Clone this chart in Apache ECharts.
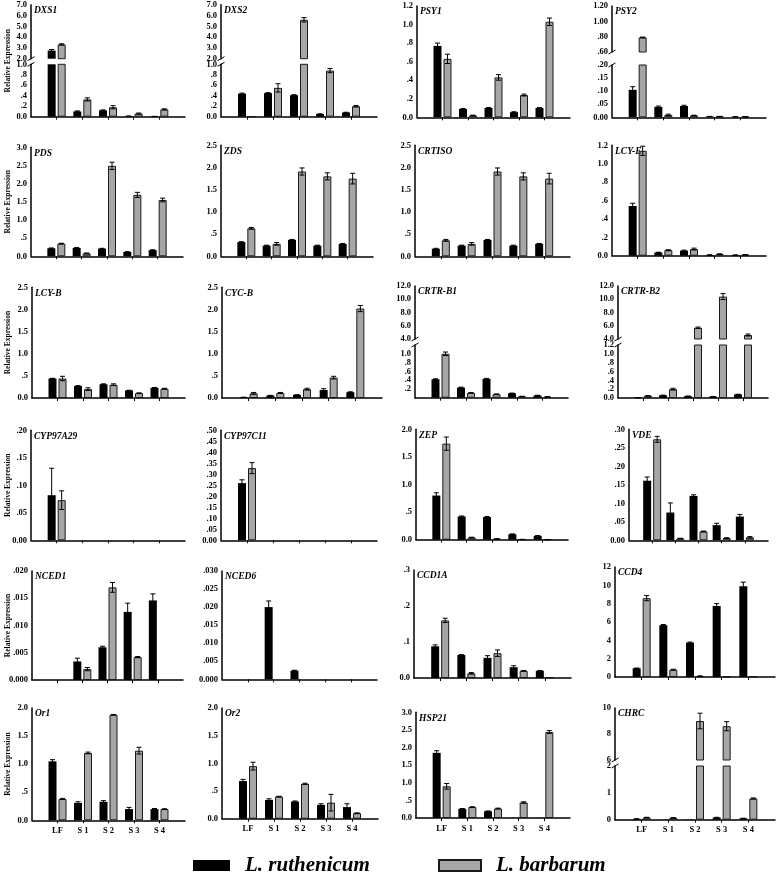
<!DOCTYPE html>
<html><head><meta charset="utf-8">
<script src="https://cdn.jsdelivr.net/npm/echarts@6/dist/echarts.min.js"></script>
<style>html,body{margin:0;padding:0;background:#fff}#c{width:778px;height:879px}</style>
</head><body><div id="c"></div>
<script>
// ---------------- DATA ----------------
const categories = ['LF', 'S 1', 'S 2', 'S 3', 'S 4'];
const seriesNames = ['L. ruthenicum', 'L. barbarum'];

const DXS1_rut = [2.75, 0.10, 0.12, 0.01, 0.005];
const DXS1_rutErr = [0.10, 0.01, 0.01, 0.002, 0.002];
const DXS1_bar = [3.32, 0.33, 0.18, 0.06, 0.14];
const DXS1_barErr = [0.06, 0.03, 0.03, 0.01, 0.01];

const DXS2_rut = [0.44, 0.45, 0.41, 0.05, 0.08];
const DXS2_rutErr = [0.01, 0.01, 0.01, 0.005, 0.005];
const DXS2_bar = [0.003, 0.55, 5.6, 0.88, 0.20];
const DXS2_barErr = [0, 0.08, 0.2, 0.04, 0.015];

const PSY1_rut = [0.77, 0.09, 0.10, 0.055, 0.10];
const PSY1_rutErr = [0.03, 0.005, 0.005, 0.005, 0.005];
const PSY1_bar = [0.63, 0.02, 0.43, 0.24, 1.03];
const PSY1_barErr = [0.05, 0.003, 0.03, 0.01, 0.04];

const PSY2_rut = [0.105, 0.040, 0.043, 0.003, 0.002];
const PSY2_rutErr = [0.012, 0.003, 0.003, 0.0005, 0.0005];
const PSY2_bar = [0.79, 0.009, 0.007, 0.003, 0.002];
const PSY2_barErr = [0.005, 0.003, 0.001, 0.0005, 0.0005];

const PDS_rut = [0.22, 0.23, 0.21, 0.12, 0.17];
const PDS_rutErr = [0.01, 0.01, 0.01, 0.005, 0.01];
const PDS_bar = [0.35, 0.08, 2.49, 1.69, 1.55];
const PDS_barErr = [0.01, 0.01, 0.10, 0.07, 0.05];

const ZDS_rut = [0.32, 0.24, 0.37, 0.24, 0.28];
const ZDS_rutErr = [0.01, 0.01, 0.01, 0.01, 0.01];
const ZDS_bar = [0.63, 0.28, 1.91, 1.80, 1.75];
const ZDS_barErr = [0.02, 0.03, 0.08, 0.08, 0.12];

const CRTISO_rut = [0.17, 0.24, 0.37, 0.24, 0.28];
const CRTISO_rutErr = [0.01, 0.01, 0.01, 0.01, 0.01];
const CRTISO_bar = [0.36, 0.28, 1.91, 1.80, 1.75];
const CRTISO_barErr = [0.02, 0.03, 0.08, 0.08, 0.12];

const LCYE_rut = [0.54, 0.035, 0.055, 0.008, 0.007];
const LCYE_rutErr = [0.03, 0.003, 0.005, 0.001, 0.001];
const LCYE_bar = [1.14, 0.06, 0.072, 0.018, 0.011];
const LCYE_barErr = [0.05, 0.005, 0.01, 0.002, 0.002];

const LCYB_rut = [0.44, 0.27, 0.31, 0.17, 0.23];
const LCYB_rutErr = [0.005, 0.01, 0.01, 0.005, 0.005];
const LCYB_bar = [0.44, 0.20, 0.30, 0.11, 0.21];
const LCYB_barErr = [0.05, 0.03, 0.02, 0.005, 0.01];

const CYCB_rut = [0.015, 0.055, 0.07, 0.18, 0.13];
const CYCB_rutErr = [0.002, 0.005, 0.005, 0.03, 0.01];
const CYCB_bar = [0.105, 0.115, 0.20, 0.46, 2.02];
const CYCB_barErr = [0.02, 0.01, 0.02, 0.03, 0.07];

const CRTRB1_rut = [0.42, 0.23, 0.43, 0.10, 0.05];
const CRTRB1_rutErr = [0.01, 0.01, 0.01, 0.005, 0.005];
const CRTRB1_bar = [1.0, 0.11, 0.08, 0.03, 0.02];
const CRTRB1_barErr = [0.04, 0.005, 0.005, 0.003, 0.003];

const CRTRB2_rut = [0.005, 0.06, 0.04, 0.03, 0.08];
const CRTRB2_rutErr = [0.001, 0.005, 0.005, 0.003, 0.005];
const CRTRB2_bar = [0.05, 0.20, 5.7, 10.4, 4.6];
const CRTRB2_barErr = [0.005, 0.02, 0.1, 0.45, 0.15];

const CYP97A29_rut = [0.082, 0, 0, 0, 0];
const CYP97A29_rutErr = [0.049, 0, 0, 0, 0];
const CYP97A29_bar = [0.073, 0, 0, 0, 0];
const CYP97A29_barErr = [0.017, 0, 0, 0, 0];

const CYP97C11_rut = [0.26, 0, 0, 0, 0];
const CYP97C11_rutErr = [0.015, 0, 0, 0, 0];
const CYP97C11_bar = [0.328, 0, 0, 0, 0];
const CYP97C11_barErr = [0.025, 0, 0, 0, 0];

const ZEP_rut = [0.80, 0.42, 0.41, 0.10, 0.07];
const ZEP_rutErr = [0.05, 0.01, 0.01, 0.005, 0.005];
const ZEP_bar = [1.74, 0.04, 0.015, 0.005, 0.003];
const ZEP_barErr = [0.12, 0.005, 0.003, 0.001, 0.001];

const VDE_rut = [0.161, 0.075, 0.120, 0.041, 0.064];
const VDE_rutErr = [0.010, 0.026, 0.003, 0.005, 0.006];
const VDE_bar = [0.273, 0.005, 0.024, 0.006, 0.008];
const VDE_barErr = [0.008, 0.0005, 0.001, 0.001, 0.002];

const NCED1_rut = [0, 0.0034, 0.0060, 0.0125, 0.0146];
const NCED1_rutErr = [0, 0.0006, 0.0002, 0.0016, 0.0012];
const NCED1_bar = [0, 0.0020, 0.0170, 0.0042, 0];
const NCED1_barErr = [0, 0.0003, 0.0009, 0.0001, 0];

const NCED6_rut = [0, 0.0200, 0.0024, 0, 0];
const NCED6_rutErr = [0, 0.0017, 0.0001, 0, 0];
const NCED6_bar = [0, 0, 0, 0, 0];
const NCED6_barErr = [0, 0, 0, 0, 0];

const CCD1A_rut = [0.088, 0.064, 0.056, 0.030, 0.020];
const CCD1A_rutErr = [0.004, 0.001, 0.006, 0.004, 0.001];
const CCD1A_bar = [0.160, 0.013, 0.069, 0.020, 0.002];
const CCD1A_barErr = [0.006, 0.002, 0.009, 0.001, 0];

const CCD4_rut = [0.95, 5.65, 3.75, 7.75, 9.90];
const CCD4_rutErr = [0.03, 0.08, 0.06, 0.25, 0.45];
const CCD4_bar = [8.60, 0.80, 0.10, 0.02, 0.02];
const CCD4_barErr = [0.28, 0.05, 0.01, 0, 0];

const Or1_rut = [1.05, 0.31, 0.33, 0.20, 0.20];
const Or1_rutErr = [0.03, 0.02, 0.02, 0.03, 0.01];
const Or1_bar = [0.38, 1.20, 1.88, 1.24, 0.20];
const Or1_barErr = [0.01, 0.015, 0.005, 0.06, 0.005];

const Or2_rut = [0.68, 0.34, 0.31, 0.25, 0.21];
const Or2_rutErr = [0.03, 0.02, 0.01, 0.02, 0.06];
const Or2_bar = [0.95, 0.40, 0.63, 0.29, 0.10];
const Or2_barErr = [0.07, 0.005, 0.01, 0.15, 0.005];

const HSP21_rut = [1.85, 0.26, 0.19, 0.005, 0.005];
const HSP21_rutErr = [0.06, 0.01, 0.01, 0, 0];
const HSP21_bar = [0.90, 0.31, 0.27, 0.44, 2.44];
const HSP21_barErr = [0.08, 0.01, 0.01, 0.02, 0.04];

const CHRC_rut = [0.03, 0.005, 0.01, 0.08, 0.05];
const CHRC_rutErr = [0.005, 0, 0, 0.01, 0.005];
const CHRC_bar = [0.08, 0.07, 9.0, 8.6, 0.79];
const CHRC_barErr = [0.01, 0.005, 0.6, 0.35, 0.02];

// axis ranges: y = [min, max, interval] (lower / only segment), yHi = upper segment of broken axis, dec = decimals of tick labels
const panels = [
  { gene: 'DXS1', d: [DXS1_rut, DXS1_rutErr, DXS1_bar, DXS1_barErr], y: [0, 1, 0.2], yHi: [2, 7, 1], dec: 1, decHi: 1 },
  { gene: 'DXS2', d: [DXS2_rut, DXS2_rutErr, DXS2_bar, DXS2_barErr], y: [0, 1, 0.2], yHi: [2, 7, 1], dec: 1, decHi: 1 },
  { gene: 'PSY1', d: [PSY1_rut, PSY1_rutErr, PSY1_bar, PSY1_barErr], y: [0, 1.2, 0.2], dec: 1 },
  { gene: 'PSY2', d: [PSY2_rut, PSY2_rutErr, PSY2_bar, PSY2_barErr], y: [0, 0.2, 0.05], yHi: [0.6, 1.2, 0.2], dec: 2, decHi: 2 },
  { gene: 'PDS', d: [PDS_rut, PDS_rutErr, PDS_bar, PDS_barErr], y: [0, 3, 0.5], dec: 1 },
  { gene: 'ZDS', d: [ZDS_rut, ZDS_rutErr, ZDS_bar, ZDS_barErr], y: [0, 2.5, 0.5], dec: 1 },
  { gene: 'CRTISO', d: [CRTISO_rut, CRTISO_rutErr, CRTISO_bar, CRTISO_barErr], y: [0, 2.5, 0.5], dec: 1 },
  { gene: 'LCY-E', d: [LCYE_rut, LCYE_rutErr, LCYE_bar, LCYE_barErr], y: [0, 1.2, 0.2], dec: 1 },
  { gene: 'LCY-B', d: [LCYB_rut, LCYB_rutErr, LCYB_bar, LCYB_barErr], y: [0, 2.5, 0.5], dec: 1 },
  { gene: 'CYC-B', d: [CYCB_rut, CYCB_rutErr, CYCB_bar, CYCB_barErr], y: [0, 2.5, 0.5], dec: 1 },
  { gene: 'CRTR-B1', d: [CRTRB1_rut, CRTRB1_rutErr, CRTRB1_bar, CRTRB1_barErr], y: [0, 1.2, 0.2], yHi: [4, 12, 2], dec: 1, decHi: 1 },
  { gene: 'CRTR-B2', d: [CRTRB2_rut, CRTRB2_rutErr, CRTRB2_bar, CRTRB2_barErr], y: [0, 1.2, 0.2], yHi: [4, 12, 2], dec: 1, decHi: 1 },
  { gene: 'CYP97A29', d: [CYP97A29_rut, CYP97A29_rutErr, CYP97A29_bar, CYP97A29_barErr], y: [0, 0.2, 0.05], dec: 2 },
  { gene: 'CYP97C11', d: [CYP97C11_rut, CYP97C11_rutErr, CYP97C11_bar, CYP97C11_barErr], y: [0, 0.5, 0.05], dec: 2 },
  { gene: 'ZEP', d: [ZEP_rut, ZEP_rutErr, ZEP_bar, ZEP_barErr], y: [0, 2, 0.5], dec: 1 },
  { gene: 'VDE', d: [VDE_rut, VDE_rutErr, VDE_bar, VDE_barErr], y: [0, 0.3, 0.05], dec: 2 },
  { gene: 'NCED1', d: [NCED1_rut, NCED1_rutErr, NCED1_bar, NCED1_barErr], y: [0, 0.02, 0.005], dec: 3 },
  { gene: 'NCED6', d: [NCED6_rut, NCED6_rutErr, NCED6_bar, NCED6_barErr], y: [0, 0.03, 0.005], dec: 3 },
  { gene: 'CCD1A', d: [CCD1A_rut, CCD1A_rutErr, CCD1A_bar, CCD1A_barErr], y: [0, 0.3, 0.1], dec: 1 },
  { gene: 'CCD4', d: [CCD4_rut, CCD4_rutErr, CCD4_bar, CCD4_barErr], y: [0, 12, 2], dec: 0 },
  { gene: 'Or1', d: [Or1_rut, Or1_rutErr, Or1_bar, Or1_barErr], y: [0, 2, 0.5], dec: 1 },
  { gene: 'Or2', d: [Or2_rut, Or2_rutErr, Or2_bar, Or2_barErr], y: [0, 2, 0.5], dec: 1 },
  { gene: 'HSP21', d: [HSP21_rut, HSP21_rutErr, HSP21_bar, HSP21_barErr], y: [0, 3, 0.5], dec: 1 },
  { gene: 'CHRC', d: [CHRC_rut, CHRC_rutErr, CHRC_bar, CHRC_barErr], y: [0, 2, 1], yHi: [6, 10, 2], dec: 0, decHi: 0 }
];

// ---------------- LAYOUT ----------------
// [left, right, top, bottom, upperSegmentBottom, lowerSegmentTop]
const boxes = [
  [31, 185, 4.7, 116.7, 58.7, 64.3], [221, 377, 4.7, 116.7, 58.7, 64.3], [417, 570, 6, 117.3], [612, 766, 6, 117.3, 52, 65],
  [31, 183, 147.3, 256.3], [221, 373, 145.3, 256.3], [415, 570, 145.3, 256.3], [612, 766, 145.3, 255.7],
  [32, 185, 287.3, 398], [222, 382, 287.3, 398], [415, 568, 286, 397.7, 339, 345], [618, 768, 286, 398, 339, 345],
  [31, 185, 430.3, 540.3], [221, 377, 430.3, 540.3], [416, 568, 429.3, 539.7], [629, 768, 429.3, 540.3],
  [32, 183, 571, 680], [222, 377, 571, 679.3], [414, 571, 570, 678], [615, 775, 567, 677],
  [32, 185, 708, 820.3], [222, 378, 708, 818.7], [416, 570, 712.3, 818], [615, 775, 708, 819.7, 760, 766]
];
const yNamePanels = [0, 4, 8, 12, 16, 20];
const labelRowStart = 20;

const FONT = '"Liberation Serif", "Times New Roman", serif';
const BW = 8, GAP = 0.25;
const GRAY = '#a6a6a6';

const grids = [], xAxes = [], yAxes = [], series = [], titles = [], graphics = [];

function fmt(dec) {
  return function (v) {
    if (Math.abs(v) < 1e-12) return (0).toFixed(dec);
    let s = v.toFixed(dec);
    if (v < 1 && dec > 0) s = s.replace(/^0/, '');
    return s;
  };
}

function addGrid(left, right, top, bottom, showX, showXLabels, ys, dec) {
  const gi = grids.length;
  grids.push({ left: left, top: top, width: right - left, height: bottom - top });
  xAxes.push({
    type: 'category', gridIndex: gi, data: [''].concat(categories, ['']), boundaryGap: false, show: showX,
    axisLine: { lineStyle: { color: '#000', width: 1.5 } },
    axisTick: { show: true, length: 3, interval: function (i) { return i > 0 && i < 6; }, lineStyle: { color: '#000', width: 1 } },
    axisLabel: { show: showXLabels, interval: 0, fontFamily: FONT, fontWeight: 'bold', fontSize: 8.5, color: '#000', margin: 6 },
    splitLine: { show: false }
  });
  yAxes.push({
    type: 'value', gridIndex: gi, min: ys[0], max: ys[1], interval: ys[2],
    axisLine: { show: true, lineStyle: { color: '#000', width: 1.5 } },
    axisTick: { show: false }, splitLine: { show: false },
    axisLabel: { formatter: fmt(dec), fontFamily: FONT, fontWeight: 'bold', fontSize: 8.5, color: '#000', margin: 4 }
  });
  return gi;
}

function renderErr(params, api) {
  const x = api.value(0), v = api.value(1), e = api.value(2), side = api.value(3);
  const off = side * BW * (1 + GAP) / 2;
  const pTop = api.coord([x, v + e]);
  const pBot = api.coord([x, Math.max(0, v - e)]);
  const cx = pTop[0] + off, hw = 2.5;
  const st = { stroke: '#000', lineWidth: 1 };
  return {
    type: 'group', children: [
      { type: 'line', shape: { x1: cx, y1: pTop[1], x2: cx, y2: pBot[1] }, style: st },
      { type: 'line', shape: { x1: cx - hw, y1: pTop[1], x2: cx + hw, y2: pTop[1] }, style: st },
      { type: 'line', shape: { x1: cx - hw, y1: pBot[1], x2: cx + hw, y2: pBot[1] }, style: st }
    ]
  };
}

function addSeries(gi, d, inSeg) {
  const pad = a => [null].concat(a.map(v => (v === 0 ? null : v)), [null]);
  series.push({
    type: 'bar', name: seriesNames[0], xAxisIndex: gi, yAxisIndex: gi, data: pad(d[0]),
    barWidth: BW, barGap: '25%', itemStyle: { color: '#000', borderColor: '#000', borderWidth: 0 }, silent: true
  });
  series.push({
    type: 'bar', name: seriesNames[1], xAxisIndex: gi, yAxisIndex: gi, data: pad(d[2]),
    barWidth: BW, barGap: '25%', itemStyle: { color: GRAY, borderColor: '#1a1a1a', borderWidth: 1 }, silent: true
  });
  const errData = [];
  [[d[0], d[1], -1], [d[2], d[3], 1]].forEach(function (t) {
    t[0].forEach(function (val, i) {
      if (t[1][i] > 0 && val > 0 && inSeg(val)) errData.push([i + 1, val, t[1][i], t[2]]);
    });
  });
  series.push({
    type: 'custom', xAxisIndex: gi, yAxisIndex: gi, data: errData, encode: { x: 0, y: 1 },
    renderItem: renderErr, z: 5, silent: true
  });
}

panels.forEach(function (p, k) {
  const b = boxes[k];
  const showLabels = k >= labelRowStart;
  if (p.yHi) {
    const giHi = addGrid(b[0], b[1], b[2], b[4], false, false, p.yHi, p.decHi);
    addSeries(giHi, p.d, v => v > p.y[1]);
    const giLo = addGrid(b[0], b[1], b[5], b[3], true, showLabels, p.y, p.dec);
    addSeries(giLo, p.d, v => v <= p.y[1]);
    // break marks
    [b[4], b[5]].forEach(function (yy) {
      graphics.push({ type: 'line', shape: { x1: b[0] - 3.5, y1: yy + 2, x2: b[0] + 3.5, y2: yy - 2 }, style: { stroke: '#000', lineWidth: 1 } });
    });
  } else {
    const gi = addGrid(b[0], b[1], b[2], b[3], true, showLabels, p.y, p.dec);
    addSeries(gi, p.d, v => true);
  }
  titles.push({
    text: p.gene, left: b[0] + 3, top: b[2] + 1, padding: 0,
    textStyle: { fontFamily: FONT, fontWeight: 'bold', fontStyle: 'italic', fontSize: 9.5, color: '#000' }
  });
});

yNamePanels.forEach(function (k) {
  const b = boxes[k];
  graphics.push({
    type: 'text', x: 8.5, y: (b[2] + b[3]) / 2, rotation: Math.PI / 2,
    style: { text: 'Relative Expression', font: 'bold 7.5px ' + FONT, fill: '#000', align: 'center', verticalAlign: 'middle' }
  });
});

const legendText = { fontFamily: FONT, fontStyle: 'italic', fontWeight: 'bold', fontSize: 21, color: '#000', padding: [0, 0, 0, 10] };

const option = {
  animation: false,
  backgroundColor: '#fff',
  textStyle: { fontFamily: FONT },
  title: titles,
  grid: grids,
  xAxis: xAxes,
  yAxis: yAxes,
  series: series,
  graphic: graphics,
  legend: [
    { data: [{ name: seriesNames[0], icon: 'rect' }], left: 193, top: 855, padding: 0, itemWidth: 37, itemHeight: 11, selectedMode: false, textStyle: legendText },
    { data: [{ name: seriesNames[1], icon: 'rect' }], left: 438, top: 855, padding: 0, itemWidth: 42, itemHeight: 11, selectedMode: false, textStyle: legendText }
  ]
};

const chart = echarts.init(document.getElementById('c'), null, { renderer: 'canvas' });
chart.setOption(option);
</script></body></html>
